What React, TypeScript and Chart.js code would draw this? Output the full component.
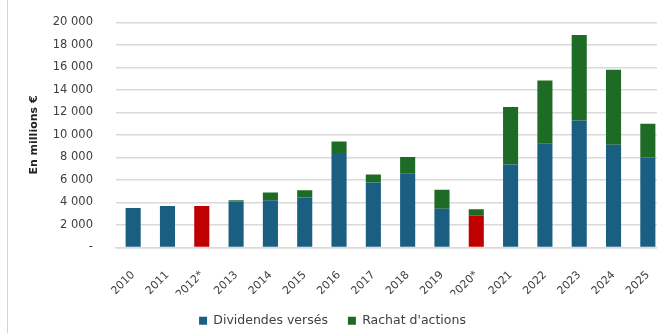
import React, { useEffect, useRef } from "react";
import { Chart, registerables } from "chart.js";

Chart.register(...registerables);

const categories = ["2010", "2011", "2012*", "2013", "2014", "2015", "2016", "2017", "2018", "2019", "2020*", "2021", "2022", "2023", "2024", "2025"];
const dividendes = [3520, 3700, 3700, 4090, 4200, 4440, 8400, 5770, 6550, 3440, 2820, 7380, 9220, 11290, 9130, 8000];
const rachats = [0, 0, 0, 110, 700, 650, 1020, 710, 1490, 1690, 590, 5100, 5620, 7610, 6670, 3000];
const highlighted = ["2012*", "2020*"];
const yTickLabels = ["-", "2 000", "4 000", "6 000", "8 000", "10 000", "12 000", "14 000", "16 000", "18 000", "20 000"];

const BLUE = "#1a5e82";
const GREEN = "#1e6b25";
const RED = "#c00000";
const FONT = "'DejaVu Sans', sans-serif";

export default function App() {
  const ref = useRef<HTMLCanvasElement>(null);
  useEffect(() => {
    document.body.style.margin = "0";
    const chart = new Chart(ref.current!, {
      type: "bar",
      data: {
        labels: categories,
        datasets: [
          {
            label: "Dividendes versés",
            data: dividendes,
            backgroundColor: (ctx: any) =>
              ctx.dataIndex !== undefined && highlighted.includes(categories[ctx.dataIndex]) ? RED : BLUE,
            barPercentage: 0.44,
            categoryPercentage: 1,
          },
          {
            label: "Rachat d'actions",
            data: rachats,
            backgroundColor: GREEN,
            barPercentage: 0.44,
            categoryPercentage: 1,
          },
        ],
      },
      options: {
        responsive: false,
        animation: false,
        layout: { padding: { left: 0, right: 27, top: 22.5, bottom: 0 } },
        plugins: {
          tooltip: { enabled: false },
          legend: {
            position: "bottom",
            labels: {
              boxWidth: 8,
              boxHeight: 8,
              padding: 20,
              color: "#404040",
              font: { family: FONT, size: 12.5 },
            },
          },
        },
        scales: {
          x: {
            stacked: true,
            grid: { display: false },
            border: { color: "#d9d9d9", width: 1.5 },
            afterFit: (scale: any) => {
              scale.height = 47;
            },
            ticks: {
              color: "#404040",
              font: { family: FONT, size: 11 },
              maxRotation: 45,
              minRotation: 45,
              padding: 13,
            },
          },
          y: {
            stacked: true,
            min: 0,
            max: 20000,
            border: { display: false },
            grid: {
              color: "#d9d9d9",
              lineWidth: 1.5,
              drawTicks: true,
              tickLength: 20,
              tickColor: "rgba(0,0,0,0)",
            },
            afterFit: (scale: any) => {
              scale.width = 116;
            },
            ticks: {
              stepSize: 2000,
              padding: 3,
              color: "#404040",
              font: { family: FONT, size: 11.5 },
              callback: (_v: any, i: number) => yTickLabels[i],
            },
            title: {
              display: true,
              text: "En millions €",
              color: "#222",
              font: { family: FONT, size: 11, weight: "bold" },
              padding: { top: 28, bottom: 0 },
            },
          },
        },
      },
    });
    return () => chart.destroy();
  }, []);

  return (
    <div style={{ position: "fixed", left: 0, top: 0, width: 657, height: 335, overflow: "hidden", background: "#fff" }}>
      <div style={{ position: "absolute", left: 7, top: 0, width: 1, height: 333, background: "#d4d4d4" }} />
      <canvas ref={ref} width={692} height={337} style={{ position: "absolute", left: 0, top: 0 }} />
    </div>
  );
}
